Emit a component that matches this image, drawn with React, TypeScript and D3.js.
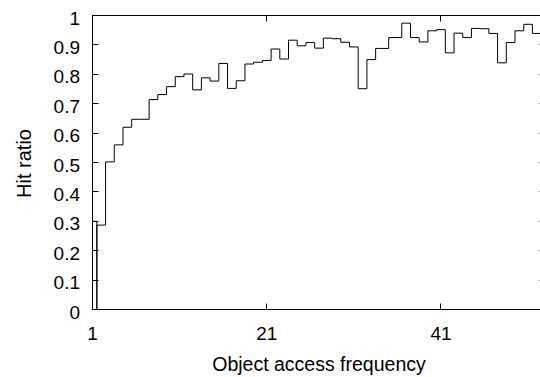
import React, { useEffect, useRef } from 'react';
import * as d3 from 'd3';

// object access frequency (x) and measured hit ratio (y); 35 has no sample
const freqs = [
  1, 2, 3, 4, 5, 6, 7, 8, 9, 10, 11, 12, 13, 14, 15, 16, 17, 18, 19, 20,
  21, 22, 23, 24, 25, 26, 27, 28, 29, 30, 31, 32, 33, 34, 36, 37, 38, 39, 40,
  41, 42, 43, 44, 45, 46, 47, 48, 49, 50, 51, 52
];
const hitRatios = [
  0.30, 0.287, 0.502, 0.56, 0.62, 0.647, 0.647, 0.714, 0.731, 0.758, 0.792, 0.801,
  0.747, 0.788, 0.777, 0.837, 0.752, 0.778, 0.835, 0.841, 0.847, 0.886, 0.852,
  0.916, 0.897, 0.908, 0.889, 0.923, 0.921, 0.909, 0.893, 0.751, 0.85, 0.888,
  0.925, 0.974, 0.925, 0.91, 0.948, 0.952, 0.873, 0.94, 0.925, 0.956, 0.955,
  0.939, 0.839, 0.908, 0.948, 0.97, 0.939
];
// indexes where a new data block begins (line drops to 0 between blocks)
const blockStarts = [0, 1];

const xTicks = [1, 21, 41];
const yTicks = [0, 0.1, 0.2, 0.3, 0.4, 0.5, 0.6, 0.7, 0.8, 0.9, 1];
const xTitle = 'Object access frequency';
const yTitle = 'Hit ratio';

const width = 540;
const height = 377;
const font = "'Liberation Sans', Arial, sans-serif";

// gnuplot-like histeps: steps centred on x, starting and ending at the baseline
const histeps = (xs: number[], ys: number[]) => {
  const n = xs.length;
  const pts: [number, number][] = [];
  for (let i = 0; i < n; i++) {
    const left = i === 0 ? xs[0] - (n > 1 ? (xs[1] - xs[0]) / 2 : 0.5) : (xs[i - 1] + xs[i]) / 2;
    const right = i === n - 1 ? xs[i] + (n > 1 ? (xs[i] - xs[i - 1]) / 2 : 0.5) : (xs[i] + xs[i + 1]) / 2;
    if (i === 0) pts.push([left, 0]);
    pts.push([left, ys[i]]);
    pts.push([right, ys[i]]);
    if (i === n - 1) pts.push([right, 0]);
  }
  return pts;
};

const App = () => {
  const ref = useRef<SVGSVGElement>(null);

  useEffect(() => {
    const svg = d3.select(ref.current);
    svg.selectAll('*').remove();

    const left = 92.5, right = 545.5, top = 15.5, bottom = 309.5;
    const x = d3.scaleLinear().domain([1, 53]).range([left, right]);
    const y = d3.scaleLinear().domain([0, 1]).range([bottom, top]);
    const tick = 6;

    svg.append('defs')
      .append('clipPath')
      .attr('id', 'plot-clip')
      .append('rect')
      .attr('x', left)
      .attr('y', top)
      .attr('width', right - left)
      .attr('height', bottom - top);

    // ticks, mirrored on all sides
    const ticks = svg.append('g').attr('stroke', '#000').attr('stroke-width', 1);
    yTicks.forEach((v) => {
      const yy = Math.round(y(v) - 0.5) + 0.5;
      ticks.append('line').attr('x1', left).attr('x2', left + tick).attr('y1', yy).attr('y2', yy);
      ticks.append('line').attr('x1', right).attr('x2', right - tick).attr('y1', yy).attr('y2', yy);
    });
    xTicks.forEach((v) => {
      const xx = Math.round(x(v) - 0.5) + 0.5;
      ticks.append('line').attr('x1', xx).attr('x2', xx).attr('y1', bottom).attr('y2', bottom - tick);
      ticks.append('line').attr('x1', xx).attr('x2', xx).attr('y1', top).attr('y2', top + tick);
    });

    // the data
    const line = d3
      .line<[number, number]>()
      .x((d) => x(d[0]))
      .y((d) => y(d[1]));

    const blocks = blockStarts.map((s, i) => {
      const e = i + 1 < blockStarts.length ? blockStarts[i + 1] : freqs.length;
      return histeps(freqs.slice(s, e), hitRatios.slice(s, e));
    });

    svg.append('g')
      .attr('clip-path', 'url(#plot-clip)')
      .selectAll('path')
      .data(blocks)
      .enter()
      .append('path')
      .attr('d', (d) => line(d))
      .attr('fill', 'none')
      .attr('stroke', '#000')
      .attr('stroke-width', 1);

    // border
    svg.append('rect')
      .attr('x', left)
      .attr('y', top)
      .attr('width', right - left)
      .attr('height', bottom - top)
      .attr('fill', 'none')
      .attr('stroke', '#000')
      .attr('stroke-width', 1);

    // tick labels
    svg.append('g')
      .selectAll('text')
      .data(yTicks)
      .enter()
      .append('text')
      .attr('x', 80)
      .attr('y', (d) => y(d) + 2.5)
      .attr('dy', '0.35em')
      .attr('text-anchor', 'end')
      .style('font-family', font)
      .style('font-size', '19px')
      .text((d) => `${d}`);

    svg.append('g')
      .selectAll('text')
      .data(xTicks)
      .enter()
      .append('text')
      .attr('x', (d) => x(d))
      .attr('y', 340)
      .attr('text-anchor', 'middle')
      .style('font-family', font)
      .style('font-size', '19px')
      .text((d) => `${d}`);

    // axis titles
    svg.append('text')
      .attr('x', (left + right) / 2)
      .attr('y', 371)
      .attr('text-anchor', 'middle')
      .style('font-family', font)
      .style('font-size', '19.5px')
      .text(xTitle);

    svg.append('text')
      .attr('transform', `translate(31, ${(top + bottom) / 2 + 1}) rotate(-90)`)
      .attr('text-anchor', 'middle')
      .style('font-family', font)
      .style('font-size', '20px')
      .text(yTitle);
  }, []);

  return (
    <svg
      ref={ref}
      width={width}
      height={height}
      style={{ position: 'absolute', left: 0, top: 0, background: '#fff' }}
    />
  );
};

export default App;
